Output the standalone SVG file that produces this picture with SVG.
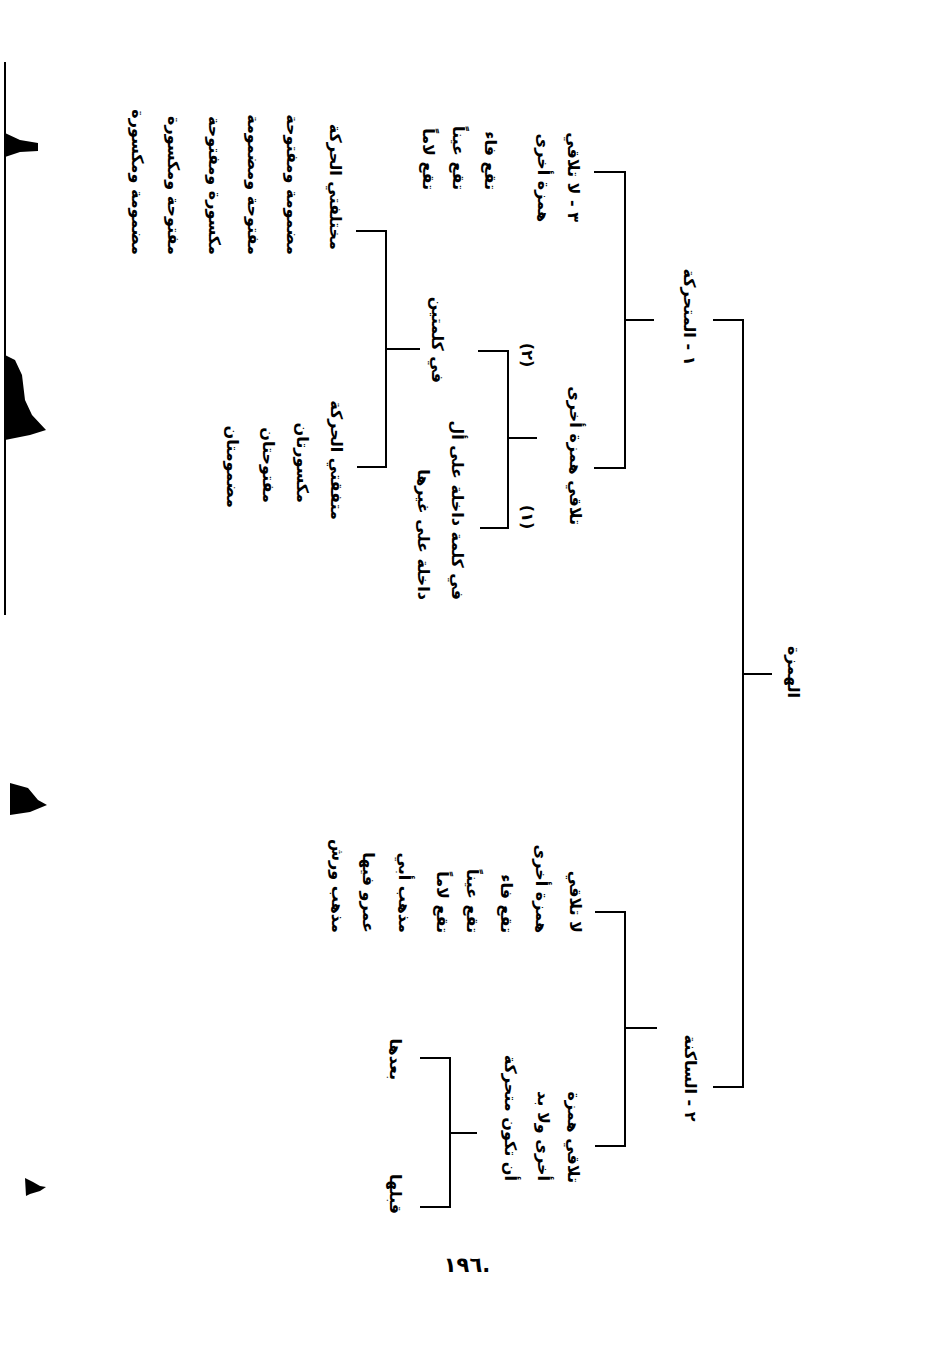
<svg xmlns="http://www.w3.org/2000/svg" width="933" height="1358" viewBox="0 0 933 1358">
<style>
.t{font-family:"DejaVu Sans","Noto Sans",sans-serif;font-weight:bold;font-size:16px;fill:#000;dominant-baseline:central}
.r{text-anchor:start}
.m{text-anchor:middle}
.c{fill:none;stroke:#000;stroke-width:2}
</style>
<rect width="933" height="1358" fill="#fff"/>
<g id="scan-edge" fill="#000">
<rect x="4" y="62" width="2" height="553"/>
<path d="M5,133 L20,140 L38,143 L38,151 L20,152 L5,157 Z"/>
<path d="M5,355 L15,360 L22,375 L25,400 L32,415 L46,430 L30,435 L5,440 Z"/>
<path d="M10,783 L28,788 L38,800 L47,805 L30,812 L10,815 Z"/>
<path d="M25,1178 L33,1182 L40,1186 L46,1187 L40,1191 L30,1194 L26,1196 Z"/>
</g>
<g id="connectors" class="c">
<path d="M713,320 H743 V1087 H713 M743,674 H772"/>
<path d="M594,172 H625 V468 H594 M625,320 H654"/>
<path d="M478,351 H508 V528 H480 M508,438 H537"/>
<path d="M356,231 H386 V467 H357 M386,349 H420"/>
<path d="M595,912 H625 V1146 H595 M625,1028 H657"/>
<path d="M420,1058 H450 V1207 H420 M450,1133 H477"/>
</g>
<g id="root"><text class="t m" direction="rtl" transform="translate(793,672) rotate(90)">الهمزة</text></g>
<g id="mutaharrika"><text class="t m" direction="rtl" transform="translate(689,317) rotate(90)">١ - المتحركة</text></g>
<g id="sakina"><text class="t m" direction="rtl" transform="translate(690,1078) rotate(90)">٢ - الساكنة</text></g>
<g id="m-la-talaqi">
<text class="t r" direction="rtl" transform="translate(573,222) rotate(90)">٣ - لا تلاقي</text>
<text class="t r" direction="rtl" transform="translate(543,222) rotate(90)">همزة أخرى</text>
</g>
<g id="m-la-talaqi-list">
<text class="t r" direction="rtl" transform="translate(490,190) rotate(90)">تقع فاء</text>
<text class="t r" direction="rtl" transform="translate(458,190) rotate(90)">تقع عيناً</text>
<text class="t r" direction="rtl" transform="translate(428,190) rotate(90)">تقع لاماً</text>
</g>
<g id="m-talaqi"><text class="t r" direction="rtl" transform="translate(575,525) rotate(90)">تلاقي همزة أخرى</text></g>
<g id="num2"><text class="t m" direction="rtl" transform="translate(527,355) rotate(90)">(٢)</text></g>
<g id="num1"><text class="t m" direction="rtl" transform="translate(527,517) rotate(90)">(١)</text></g>
<g id="kalimatayn"><text class="t r" direction="rtl" transform="translate(437,383) rotate(90)">في كلمتين</text></g>
<g id="kalima">
<text class="t r" direction="rtl" transform="translate(457,600) rotate(90)">في كلمة داخلة على أل</text>
<text class="t r" direction="rtl" transform="translate(423,600) rotate(90)">داخلة على غيرها</text>
</g>
<g id="mukhtalifati">
<text class="t r" direction="rtl" transform="translate(335,250) rotate(90)">مختلفتي الحركة</text>
<text class="t r" direction="rtl" transform="translate(292,255) rotate(90)">مضمومة ومفتوحة</text>
<text class="t r" direction="rtl" transform="translate(253,255) rotate(90)">مفتوحة ومضمومة</text>
<text class="t r" direction="rtl" transform="translate(214,255) rotate(90)">مكسورة ومفتوحة</text>
<text class="t r" direction="rtl" transform="translate(173,255) rotate(90)">مفتوحة ومكسورة</text>
<text class="t r" direction="rtl" transform="translate(137,255) rotate(90)">مضمومة ومكسورة</text>
</g>
<g id="muttafiqati">
<text class="t r" direction="rtl" transform="translate(336,520) rotate(90)">متفقتي الحركة</text>
<text class="t r" direction="rtl" transform="translate(302,503) rotate(90)">مكسورتان</text>
<text class="t r" direction="rtl" transform="translate(268,503) rotate(90)">مفتوحتان</text>
<text class="t r" direction="rtl" transform="translate(232,508) rotate(90)">مضمومتان</text>
</g>
<g id="s-la-talaqi">
<text class="t r" direction="rtl" transform="translate(575,933) rotate(90)">لا تلاقي</text>
<text class="t r" direction="rtl" transform="translate(541,933) rotate(90)">همزة أخرى</text>
<text class="t r" direction="rtl" transform="translate(506,933) rotate(90)">تقع فاء</text>
<text class="t r" direction="rtl" transform="translate(472,933) rotate(90)">تقع عيناً</text>
<text class="t r" direction="rtl" transform="translate(442,933) rotate(90)">تقع لاماً</text>
<text class="t r" direction="rtl" transform="translate(404,933) rotate(90)">مذهب أبي</text>
<text class="t r" direction="rtl" transform="translate(368,933) rotate(90)">عمرو فيها</text>
<text class="t r" direction="rtl" transform="translate(337,933) rotate(90)">مذهب ورش</text>
</g>
<g id="s-talaqi">
<text class="t r" direction="rtl" transform="translate(573,1183) rotate(90)">تلاقي همزة</text>
<text class="t r" direction="rtl" transform="translate(543,1181) rotate(90)">أخرى ولا بد</text>
<text class="t r" direction="rtl" transform="translate(510,1181) rotate(90)">أن تكون متحركة</text>
</g>
<g id="baadaha"><text class="t r" direction="rtl" transform="translate(395,1080) rotate(90)">بعدها</text></g>
<g id="qablaha"><text class="t r" direction="rtl" transform="translate(395,1214) rotate(90)">قبلها</text></g>
<g id="page-number"><text x="467" y="1272" font-family="DejaVu Sans, sans-serif" font-weight="bold" font-size="21" text-anchor="middle" direction="ltr">١٩٦.</text></g>
</svg>
